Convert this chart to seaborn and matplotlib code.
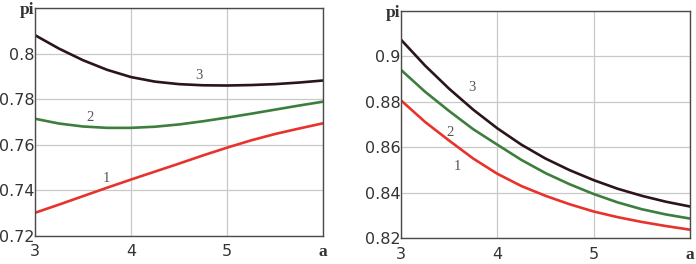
import pandas as pd
import matplotlib
matplotlib.use("Agg")
import matplotlib.pyplot as plt
import seaborn as sns

# values at a = 3, 3.25, ..., 6
a_vals = [3.0, 3.25, 3.5, 3.75, 4.0, 4.25, 4.5, 4.75, 5.0, 5.25, 5.5, 5.75, 6.0]

left_1 = [0.7302, 0.7338, 0.7375, 0.7412, 0.7448, 0.7483, 0.7518,
          0.7554, 0.7588, 0.7620, 0.7648, 0.7672, 0.7695]
left_2 = [0.7715, 0.7694, 0.7681, 0.7675, 0.7675, 0.7680, 0.7690,
          0.7704, 0.7720, 0.7737, 0.7755, 0.7773, 0.7790]
left_3 = [0.8082, 0.8023, 0.7972, 0.7930, 0.7898, 0.7878, 0.7867,
          0.7862, 0.7861, 0.7863, 0.7867, 0.7874, 0.7883]

right_1 = [0.8807, 0.8712, 0.8630, 0.8551, 0.8484, 0.8430, 0.8387,
           0.8350, 0.8318, 0.8293, 0.8272, 0.8254, 0.8238]
right_2 = [0.8941, 0.8845, 0.8760, 0.8680, 0.8612, 0.8545, 0.8487,
           0.8438, 0.8395, 0.8358, 0.8328, 0.8305, 0.8287]
right_3 = [0.9074, 0.8960, 0.8858, 0.8766, 0.8684, 0.8612, 0.8551,
           0.8500, 0.8456, 0.8418, 0.8387, 0.8361, 0.8340]

x_ticks = [3, 4, 5, 6]
x_ticklabels = ["3", "4", "5", "a"]
left_yticks = [0.72, 0.74, 0.76, 0.78, 0.80, 0.82]
left_yticklabels = ["0.72", "0.74", "0.76", "0.78", "0.8", "pi"]
right_yticks = [0.82, 0.84, 0.86, 0.88, 0.90, 0.92]
right_yticklabels = ["0.82", "0.84", "0.86", "0.88", "0.9", "pi"]

# curve label positions (a, pi)
left_labels = {"1": (3.74, 0.7452), "2": (3.57, 0.7722), "3": (4.71, 0.7904)}
right_labels = {"1": (3.59, 0.8514), "2": (3.51, 0.8667), "3": (3.74, 0.8864)}

colors = {"1": "#e8322c", "2": "#3d7e3d", "3": "#2b1518"}


def make_frame(s1, s2, s3):
    rows = []
    for name, vals in (("1", s1), ("2", s2), ("3", s3)):
        for a, v in zip(a_vals, vals):
            rows.append({"a": a, "pi": v, "curve": name})
    return pd.DataFrame(rows)


sns.set_style("white")
plt.rcParams["font.family"] = ["DejaVu Sans"]

fig = plt.figure(figsize=(6.96, 2.64), dpi=100)
ax_l = fig.add_axes([0.0503, 0.106, 0.4138, 0.8625])
ax_r = fig.add_axes([0.5761, 0.0973, 0.4152, 0.861])


def draw_panel(ax, df, yticks, yticklabels, labels):
    sns.lineplot(data=df, x="a", y="pi", hue="curve", palette=colors,
                 linewidth=1.9, legend=False, ax=ax)
    ax.set_xlim(3, 6)
    ax.set_ylim(yticks[0], yticks[-1])
    ax.set_xticks(x_ticks)
    ax.set_yticks(yticks)
    ax.grid(True, color="#c9c9c9", linewidth=0.9)
    ax.set_axisbelow(True)
    ax.set_xlabel("")
    ax.set_ylabel("")
    ax.set_xticklabels(x_ticklabels)
    ax.set_yticklabels(yticklabels)
    ax.tick_params(length=0, labelsize=11.5, labelcolor="#333333")
    ax.tick_params(axis="y", pad=0.5)
    ax.tick_params(axis="x", pad=6)
    for lbl in ax.get_xticklabels()[-1:] + ax.get_yticklabels()[-1:]:
        lbl.set_family(["Liberation Serif", "DejaVu Serif"])
        lbl.set_fontweight("bold")
        lbl.set_fontsize(12.5)
    for sp in ax.spines.values():
        sp.set_color("#4a4a4a")
        sp.set_linewidth(1.0)
    for name, (x, y) in labels.items():
        ax.text(x, y, name, fontsize=10.5, color="#555555", ha="center", va="center",
                family=["Liberation Serif", "DejaVu Serif"])


draw_panel(ax_l, make_frame(left_1, left_2, left_3), left_yticks, left_yticklabels, left_labels)
draw_panel(ax_r, make_frame(right_1, right_2, right_3), right_yticks, right_yticklabels, right_labels)

fig.savefig("out.png", dpi=100)
